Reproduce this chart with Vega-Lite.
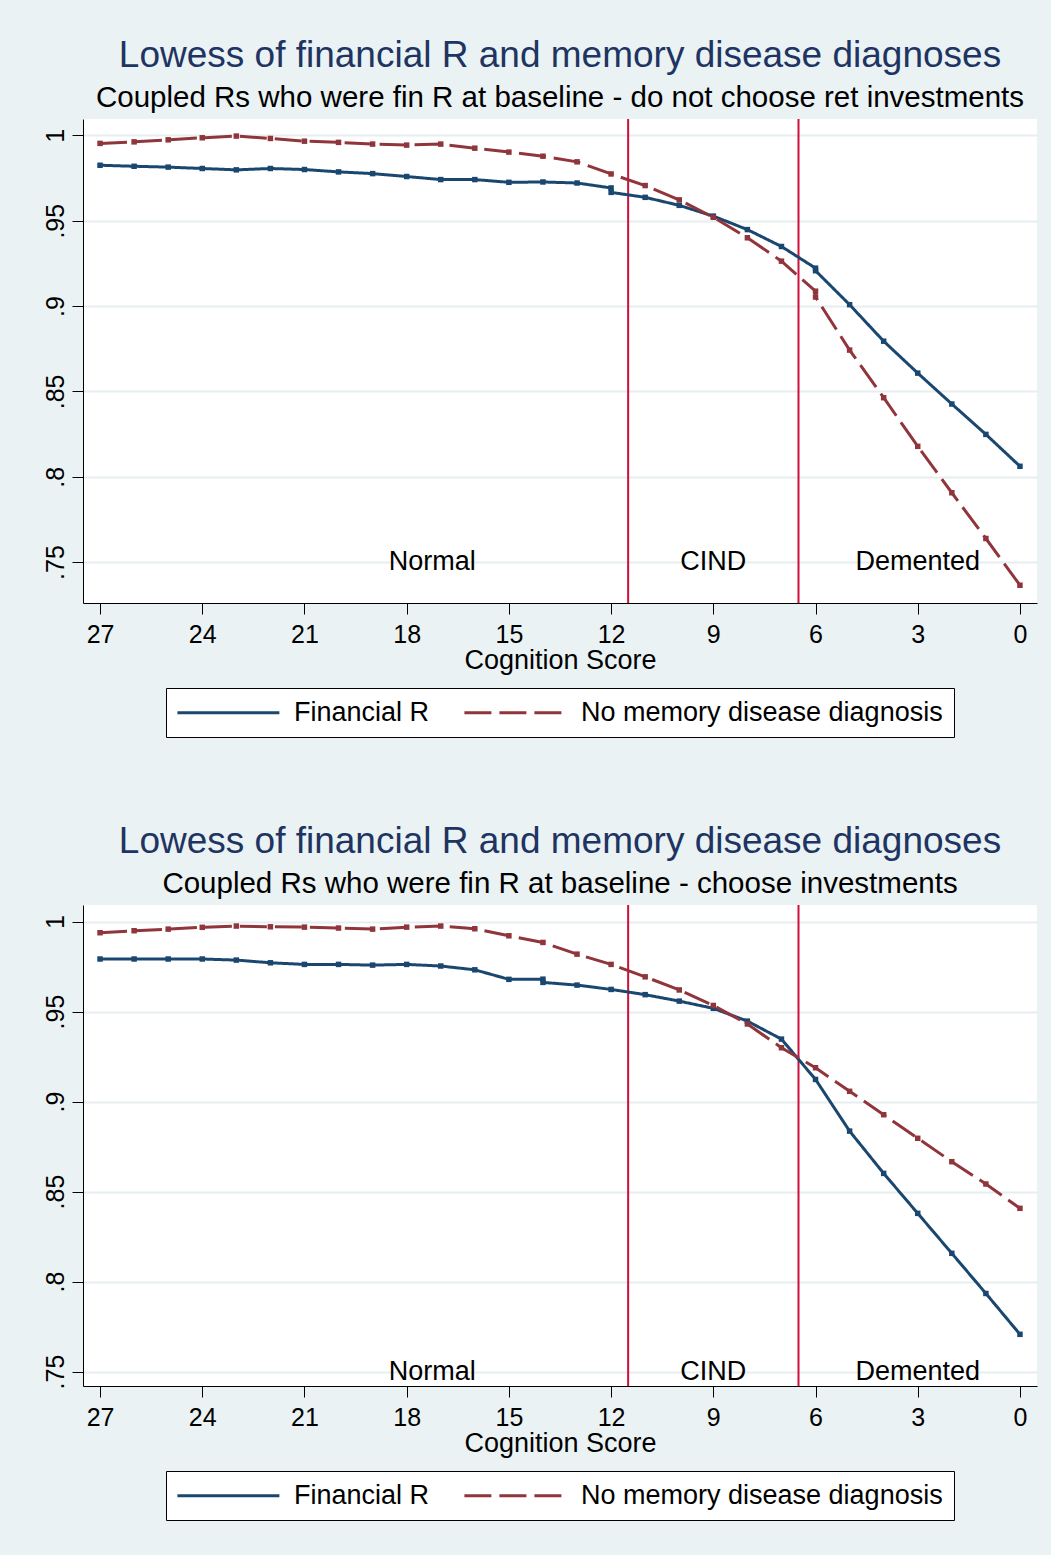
{
  "$schema": "https://vega.github.io/schema/vega-lite/v6.json",
  "background": "#EAF2F3",
  "padding": {"left": 43, "top": 37, "right": 14, "bottom": 34},
  "spacing": 85,
  "datasets": {
    "top": [
      {"score": 27, "value": 0.9825, "series": "Financial R"},
      {"score": 26, "value": 0.9819, "series": "Financial R"},
      {"score": 25, "value": 0.9814, "series": "Financial R"},
      {"score": 24, "value": 0.9806, "series": "Financial R"},
      {"score": 23, "value": 0.9798, "series": "Financial R"},
      {"score": 22, "value": 0.9806, "series": "Financial R"},
      {"score": 21, "value": 0.9800, "series": "Financial R"},
      {"score": 20, "value": 0.9786, "series": "Financial R"},
      {"score": 19, "value": 0.9776, "series": "Financial R"},
      {"score": 18, "value": 0.9759, "series": "Financial R"},
      {"score": 17, "value": 0.9741, "series": "Financial R"},
      {"score": 16, "value": 0.9741, "series": "Financial R"},
      {"score": 15, "value": 0.9725, "series": "Financial R"},
      {"score": 14, "value": 0.9727, "series": "Financial R"},
      {"score": 13, "value": 0.9721, "series": "Financial R"},
      {"score": 12, "value": 0.9692, "series": "Financial R"},
      {"score": 12, "value": 0.9666, "series": "Financial R"},
      {"score": 11, "value": 0.9637, "series": "Financial R"},
      {"score": 10, "value": 0.9590, "series": "Financial R"},
      {"score": 9, "value": 0.9527, "series": "Financial R"},
      {"score": 8, "value": 0.9448, "series": "Financial R"},
      {"score": 7, "value": 0.9349, "series": "Financial R"},
      {"score": 6, "value": 0.9222, "series": "Financial R"},
      {"score": 6, "value": 0.9207, "series": "Financial R"},
      {"score": 5, "value": 0.9008, "series": "Financial R"},
      {"score": 4, "value": 0.8794, "series": "Financial R"},
      {"score": 3, "value": 0.8607, "series": "Financial R"},
      {"score": 2, "value": 0.8426, "series": "Financial R"},
      {"score": 1, "value": 0.8248, "series": "Financial R"},
      {"score": 0, "value": 0.8061, "series": "Financial R"},
      {"score": 27, "value": 0.9953, "series": "No memory disease diagnosis"},
      {"score": 26, "value": 0.9962, "series": "No memory disease diagnosis"},
      {"score": 25, "value": 0.9974, "series": "No memory disease diagnosis"},
      {"score": 24, "value": 0.9986, "series": "No memory disease diagnosis"},
      {"score": 23, "value": 0.9996, "series": "No memory disease diagnosis"},
      {"score": 22, "value": 0.9982, "series": "No memory disease diagnosis"},
      {"score": 21, "value": 0.9966, "series": "No memory disease diagnosis"},
      {"score": 20, "value": 0.9959, "series": "No memory disease diagnosis"},
      {"score": 19, "value": 0.9949, "series": "No memory disease diagnosis"},
      {"score": 18, "value": 0.9943, "series": "No memory disease diagnosis"},
      {"score": 17, "value": 0.9949, "series": "No memory disease diagnosis"},
      {"score": 16, "value": 0.9925, "series": "No memory disease diagnosis"},
      {"score": 15, "value": 0.9902, "series": "No memory disease diagnosis"},
      {"score": 14, "value": 0.9878, "series": "No memory disease diagnosis"},
      {"score": 13, "value": 0.9845, "series": "No memory disease diagnosis"},
      {"score": 12, "value": 0.9774, "series": "No memory disease diagnosis"},
      {"score": 11, "value": 0.9706, "series": "No memory disease diagnosis"},
      {"score": 10, "value": 0.9622, "series": "No memory disease diagnosis"},
      {"score": 9, "value": 0.9520, "series": "No memory disease diagnosis"},
      {"score": 8, "value": 0.9400, "series": "No memory disease diagnosis"},
      {"score": 7, "value": 0.9263, "series": "No memory disease diagnosis"},
      {"score": 6, "value": 0.9087, "series": "No memory disease diagnosis"},
      {"score": 6, "value": 0.9053, "series": "No memory disease diagnosis"},
      {"score": 5, "value": 0.8742, "series": "No memory disease diagnosis"},
      {"score": 4, "value": 0.8463, "series": "No memory disease diagnosis"},
      {"score": 3, "value": 0.8178, "series": "No memory disease diagnosis"},
      {"score": 2, "value": 0.7906, "series": "No memory disease diagnosis"},
      {"score": 1, "value": 0.7638, "series": "No memory disease diagnosis"},
      {"score": 0, "value": 0.7364, "series": "No memory disease diagnosis"}
    ],
    "bottom": [
      {"score": 27, "value": 0.9792, "series": "Financial R"},
      {"score": 26, "value": 0.9792, "series": "Financial R"},
      {"score": 25, "value": 0.9792, "series": "Financial R"},
      {"score": 24, "value": 0.9792, "series": "Financial R"},
      {"score": 23, "value": 0.9786, "series": "Financial R"},
      {"score": 22, "value": 0.9771, "series": "Financial R"},
      {"score": 21, "value": 0.9762, "series": "Financial R"},
      {"score": 20, "value": 0.9762, "series": "Financial R"},
      {"score": 19, "value": 0.9758, "series": "Financial R"},
      {"score": 18, "value": 0.9762, "series": "Financial R"},
      {"score": 17, "value": 0.9753, "series": "Financial R"},
      {"score": 16, "value": 0.9732, "series": "Financial R"},
      {"score": 15, "value": 0.9679, "series": "Financial R"},
      {"score": 14, "value": 0.9680, "series": "Financial R"},
      {"score": 14, "value": 0.9662, "series": "Financial R"},
      {"score": 13, "value": 0.9647, "series": "Financial R"},
      {"score": 12, "value": 0.9623, "series": "Financial R"},
      {"score": 11, "value": 0.9594, "series": "Financial R"},
      {"score": 10, "value": 0.9558, "series": "Financial R"},
      {"score": 9, "value": 0.9518, "series": "Financial R"},
      {"score": 8, "value": 0.9447, "series": "Financial R"},
      {"score": 7, "value": 0.9347, "series": "Financial R"},
      {"score": 6, "value": 0.9123, "series": "Financial R"},
      {"score": 5, "value": 0.8836, "series": "Financial R"},
      {"score": 4, "value": 0.8601, "series": "Financial R"},
      {"score": 3, "value": 0.8379, "series": "Financial R"},
      {"score": 2, "value": 0.8157, "series": "Financial R"},
      {"score": 1, "value": 0.7934, "series": "Financial R"},
      {"score": 0, "value": 0.7707, "series": "Financial R"},
      {"score": 27, "value": 0.9938, "series": "No memory disease diagnosis"},
      {"score": 26, "value": 0.9949, "series": "No memory disease diagnosis"},
      {"score": 25, "value": 0.9958, "series": "No memory disease diagnosis"},
      {"score": 24, "value": 0.9968, "series": "No memory disease diagnosis"},
      {"score": 23, "value": 0.9975, "series": "No memory disease diagnosis"},
      {"score": 22, "value": 0.9971, "series": "No memory disease diagnosis"},
      {"score": 21, "value": 0.9969, "series": "No memory disease diagnosis"},
      {"score": 20, "value": 0.9964, "series": "No memory disease diagnosis"},
      {"score": 19, "value": 0.9958, "series": "No memory disease diagnosis"},
      {"score": 18, "value": 0.9969, "series": "No memory disease diagnosis"},
      {"score": 17, "value": 0.9975, "series": "No memory disease diagnosis"},
      {"score": 16, "value": 0.9960, "series": "No memory disease diagnosis"},
      {"score": 15, "value": 0.9921, "series": "No memory disease diagnosis"},
      {"score": 14, "value": 0.9884, "series": "No memory disease diagnosis"},
      {"score": 13, "value": 0.9819, "series": "No memory disease diagnosis"},
      {"score": 12, "value": 0.9762, "series": "No memory disease diagnosis"},
      {"score": 11, "value": 0.9693, "series": "No memory disease diagnosis"},
      {"score": 10, "value": 0.9620, "series": "No memory disease diagnosis"},
      {"score": 9, "value": 0.9534, "series": "No memory disease diagnosis"},
      {"score": 8, "value": 0.9431, "series": "No memory disease diagnosis"},
      {"score": 7, "value": 0.9299, "series": "No memory disease diagnosis"},
      {"score": 6, "value": 0.9188, "series": "No memory disease diagnosis"},
      {"score": 5, "value": 0.9057, "series": "No memory disease diagnosis"},
      {"score": 4, "value": 0.8927, "series": "No memory disease diagnosis"},
      {"score": 3, "value": 0.8796, "series": "No memory disease diagnosis"},
      {"score": 2, "value": 0.8666, "series": "No memory disease diagnosis"},
      {"score": 1, "value": 0.8542, "series": "No memory disease diagnosis"},
      {"score": 0, "value": 0.8407, "series": "No memory disease diagnosis"}
    ],
    "cuts": [{"score": 11.5}, {"score": 6.5}],
    "labels": [
      {"score": 17.25, "value": 0.75, "label": "Normal"},
      {"score": 9, "value": 0.75, "label": "CIND"},
      {"score": 3, "value": 0.75, "label": "Demented"}
    ]
  },
  "vconcat": [
    {
      "width": 954,
      "height": 484,
      "title": {
        "text": "Lowess of financial R and memory disease diagnoses",
        "subtitle": "Coupled Rs who were fin R at baseline - do not choose ret investments"
      },
      "layer": [
        {
          "data": {"name": "cuts"},
          "mark": {"type": "rule", "color": "#D0103A", "strokeWidth": 2},
          "encoding": {
            "x": {"field": "score", "type": "quantitative", "scale": {"domain": [-0.5, 27.5], "reverse": true, "nice": false, "zero": false},
              "axis": {"values": [0, 3, 6, 9, 12, 15, 18, 21, 24, 27], "title": "Cognition Score"}}
          }
        },
        {
          "data": {"name": "top"},
          "mark": {"type": "line", "strokeWidth": 3, "point": {"shape": "square", "size": 30, "filled": true}},
          "encoding": {
            "x": {"field": "score", "type": "quantitative"},
            "y": {"field": "value", "type": "quantitative", "scale": {"domain": [0.726, 1.0096], "nice": false, "zero": false},
              "axis": {"values": [0.75, 0.8, 0.85, 0.9, 0.95, 1], "title": null, "labelExpr": "datum.value == 1 ? '1' : slice(format(datum.value, '.2~f'), 1)"}},
            "color": {"field": "series", "type": "nominal", "scale": {"domain": ["Financial R", "No memory disease diagnosis"], "range": ["#1A476F", "#90353B"]},
              "legend": {"title": null, "symbolType": "M-1,0H19", "symbolSize": 104, "labelOffset": 98, "symbolOffset": -8}},
            "strokeDash": {"field": "series", "type": "nominal", "scale": {"domain": ["Financial R", "No memory disease diagnosis"], "range": [[1, 0], [27, 8]]},
              "legend": {"title": null, "symbolType": "M-1,0H19", "symbolSize": 104, "labelOffset": 98, "symbolOffset": -8}}
          }
        },
        {
          "data": {"name": "labels"},
          "mark": {"type": "text", "fontSize": 27, "font": "Liberation Sans", "baseline": "middle", "align": "center", "color": "black"},
          "encoding": {
            "x": {"field": "score", "type": "quantitative"},
            "y": {"field": "value", "type": "quantitative"},
            "text": {"field": "label"}
          }
        }
      ]
    },
    {
      "width": 954,
      "height": 481,
      "title": {
        "text": "Lowess of financial R and memory disease diagnoses",
        "subtitle": "Coupled Rs who were fin R at baseline - choose investments"
      },
      "layer": [
        {
          "data": {"name": "cuts"},
          "mark": {"type": "rule", "color": "#D0103A", "strokeWidth": 2},
          "encoding": {
            "x": {"field": "score", "type": "quantitative", "scale": {"domain": [-0.5, 27.5], "reverse": true, "nice": false, "zero": false},
              "axis": {"values": [0, 3, 6, 9, 12, 15, 18, 21, 24, 27], "title": "Cognition Score"}}
          }
        },
        {
          "data": {"name": "bottom"},
          "mark": {"type": "line", "strokeWidth": 3, "point": {"shape": "square", "size": 30, "filled": true}},
          "encoding": {
            "x": {"field": "score", "type": "quantitative"},
            "y": {"field": "value", "type": "quantitative", "scale": {"domain": [0.742, 1.0092], "nice": false, "zero": false},
              "axis": {"values": [0.75, 0.8, 0.85, 0.9, 0.95, 1], "title": null, "labelExpr": "datum.value == 1 ? '1' : slice(format(datum.value, '.2~f'), 1)"}},
            "color": {"field": "series", "type": "nominal", "scale": {"domain": ["Financial R", "No memory disease diagnosis"], "range": ["#1A476F", "#90353B"]},
              "legend": {"title": null, "symbolType": "M-1,0H19", "symbolSize": 104, "labelOffset": 98, "symbolOffset": -8}},
            "strokeDash": {"field": "series", "type": "nominal", "scale": {"domain": ["Financial R", "No memory disease diagnosis"], "range": [[1, 0], [27, 8]]},
              "legend": {"title": null, "symbolType": "M-1,0H19", "symbolSize": 104, "labelOffset": 98, "symbolOffset": -8}}
          }
        },
        {
          "data": {"name": "labels"},
          "mark": {"type": "text", "fontSize": 27, "font": "Liberation Sans", "baseline": "middle", "align": "center", "color": "black"},
          "encoding": {
            "x": {"field": "score", "type": "quantitative"},
            "y": {"field": "value", "type": "quantitative"},
            "text": {"field": "label"}
          }
        }
      ]
    }
  ],
  "resolve": {
    "scale": {"x": "independent", "y": "independent", "color": "independent", "strokeDash": "independent"},
    "legend": {"color": "independent", "strokeDash": "independent"}
  },
  "config": {
    "font": "Liberation Sans",
    "view": {"fill": "white", "stroke": null},
    "title": {
      "font": "Liberation Sans",
      "fontSize": 37,
      "fontWeight": "normal",
      "color": "#1E3462",
      "subtitleFont": "Liberation Sans",
      "subtitleFontSize": 29.5,
      "subtitleColor": "black",
      "anchor": "middle",
      "offset": 5,
      "subtitlePadding": 8.5
    },
    "axis": {
      "domainColor": "black",
      "domainWidth": 1,
      "tickColor": "black",
      "tickWidth": 1,
      "tickSize": 11,
      "labelColor": "black",
      "titleColor": "black",
      "labelFont": "Liberation Sans",
      "titleFont": "Liberation Sans",
      "labelFontSize": 25,
      "titleFontSize": 27,
      "titleFontWeight": "normal",
      "labelFlush": false,
      "labelOverlap": false
    },
    "axisX": {"grid": false, "labelPadding": 8, "titlePadding": 0},
    "axisY": {"grid": true, "gridColor": "#E6EEF0", "gridWidth": 2, "labelAngle": -90, "labelPadding": 4},
    "legend": {
      "orient": "bottom",
      "direction": "horizontal",
      "labelFont": "Liberation Sans",
      "labelFontSize": 27,
      "labelColor": "black",
      "symbolStrokeWidth": 3,
      "strokeColor": "black",
      "fillColor": "white",
      "padding": 11,
      "columnPadding": 28,
      "offset": 15,
      "labelLimit": 0,
      "layout": {"bottom": {"anchor": "middle"}}
    }
  }
}
